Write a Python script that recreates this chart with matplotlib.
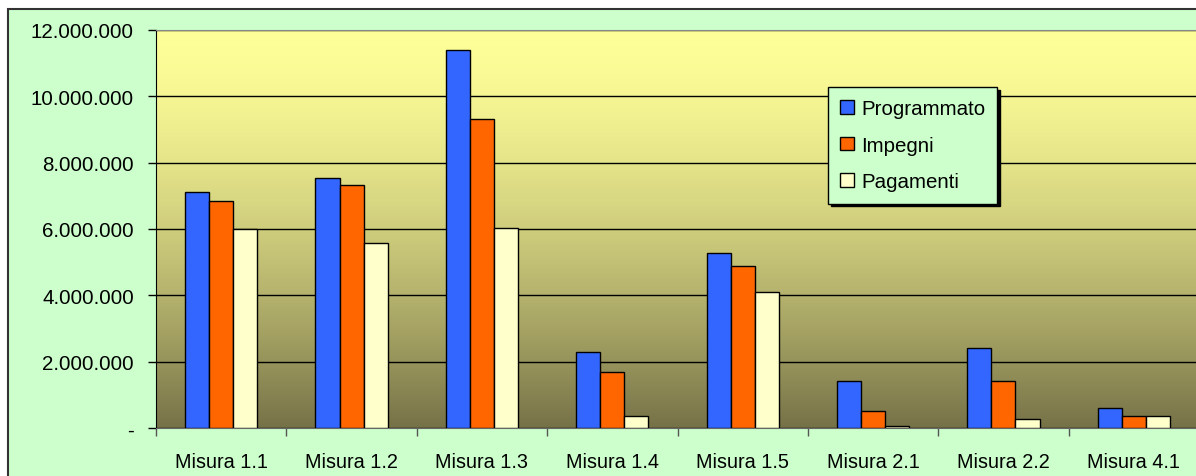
import numpy as np
import matplotlib
matplotlib.use("Agg")
import matplotlib.pyplot as plt
from matplotlib.patches import Rectangle
from matplotlib.ticker import FuncFormatter

plt.rcParams['font.family'] = ['Liberation Sans', 'DejaVu Sans']

categories = ['Misura 1.1', 'Misura 1.2', 'Misura 1.3', 'Misura 1.4',
              'Misura 1.5', 'Misura 2.1', 'Misura 2.2', 'Misura 4.1']
programmato = [7110000, 7540000, 11400000, 2290000, 5280000, 1420000, 2410000, 600000]
impegni = [6840000, 7330000, 9320000, 1690000, 4880000, 520000, 1420000, 360000]
pagamenti = [6000000, 5580000, 6040000, 360000, 4100000, 70000, 270000, 360000]
series_names = ['Programmato', 'Impegni', 'Pagamenti']
colors = ['#3366FF', '#FF6600', '#FFFFCC']

W, H = 1196, 477
fig = plt.figure(figsize=(W / 100, H / 100), dpi=100, facecolor='white')

# outer chart area (green, cut off at the right/bottom)
fig.patches.append(Rectangle((8 / W, -0.05), 1.5, 1 - 10 / H + 0.05,
                             transform=fig.transFigure, facecolor='#CCFFCC',
                             edgecolor='#333333', linewidth=1.5, zorder=-5))

ax = fig.add_axes([156 / W, 48 / H, (1199 - 156) / W, (429 - 31) / H])
ax.set_zorder(1)
ax.set_xlim(-0.5, 7.5)
ax.set_ylim(0, 12000000)

# gradient background of the plot area (light yellow -> olive)
top = np.array([255, 255, 153]) / 255
bot = np.array([118, 114, 72]) / 255
t = np.linspace(0, 1, 256)[:, None] ** 1.5
grad = (top * (1 - t) + bot * t)[:, None, :]
ax.imshow(grad, extent=[-0.5, 7.5, 0, 12000000], aspect='auto', zorder=0,
          origin='upper')

ax.set_yticks(np.arange(0, 12000001, 2000000))
ax.yaxis.grid(True, color='black', linewidth=1)
ax.set_axisbelow(True)

x = np.arange(len(categories))
bw = 0.185
for i, (vals, c, name) in enumerate(zip([programmato, impegni, pagamenti], colors, series_names)):
    ax.bar(x + (i - 1) * bw, vals, width=bw, color=c, edgecolor='black',
           linewidth=1, label=name, zorder=3)

def fmt(v, pos):
    if v == 0:
        return '-'
    return f'{int(v):,}'.replace(',', '.')

ax.yaxis.set_major_formatter(FuncFormatter(fmt))
ax.tick_params(axis='y', length=6, width=1, pad=10, labelsize=14.8)

ax.set_xticks(np.arange(-0.5, 8, 1))
ax.set_xticklabels([])
ax.set_xticks(x, minor=True)
ax.set_xticklabels(categories, minor=True)
ax.tick_params(axis='x', which='major', length=6, width=1, color='#555555')
ax.tick_params(axis='x', which='minor', length=0, pad=17, labelsize=14.3)

ax.spines['right'].set_visible(False)
ax.spines['left'].set_color('black')
ax.spines['bottom'].set_color('#666666')
ax.spines['top'].set_color('#888888')

leg = ax.legend(loc='upper left', bbox_to_anchor=(828 / W, 1 - 88 / H),
                bbox_transform=fig.transFigure, fontsize=14.8,
                frameon=True, fancybox=False, shadow={'color': 'black', 'alpha': 1},
                handlelength=0.65, handleheight=0.65, handletextpad=0.35,
                labelspacing=0.85, borderpad=0.6, borderaxespad=0)
leg.get_frame().set_facecolor('#CCFFCC')
leg.get_frame().set_edgecolor('black')
leg.get_frame().set_linewidth(1)
leg.get_frame().set_alpha(1)
leg.set_zorder(10)

fig.savefig('out.png', dpi=100, facecolor='white')
